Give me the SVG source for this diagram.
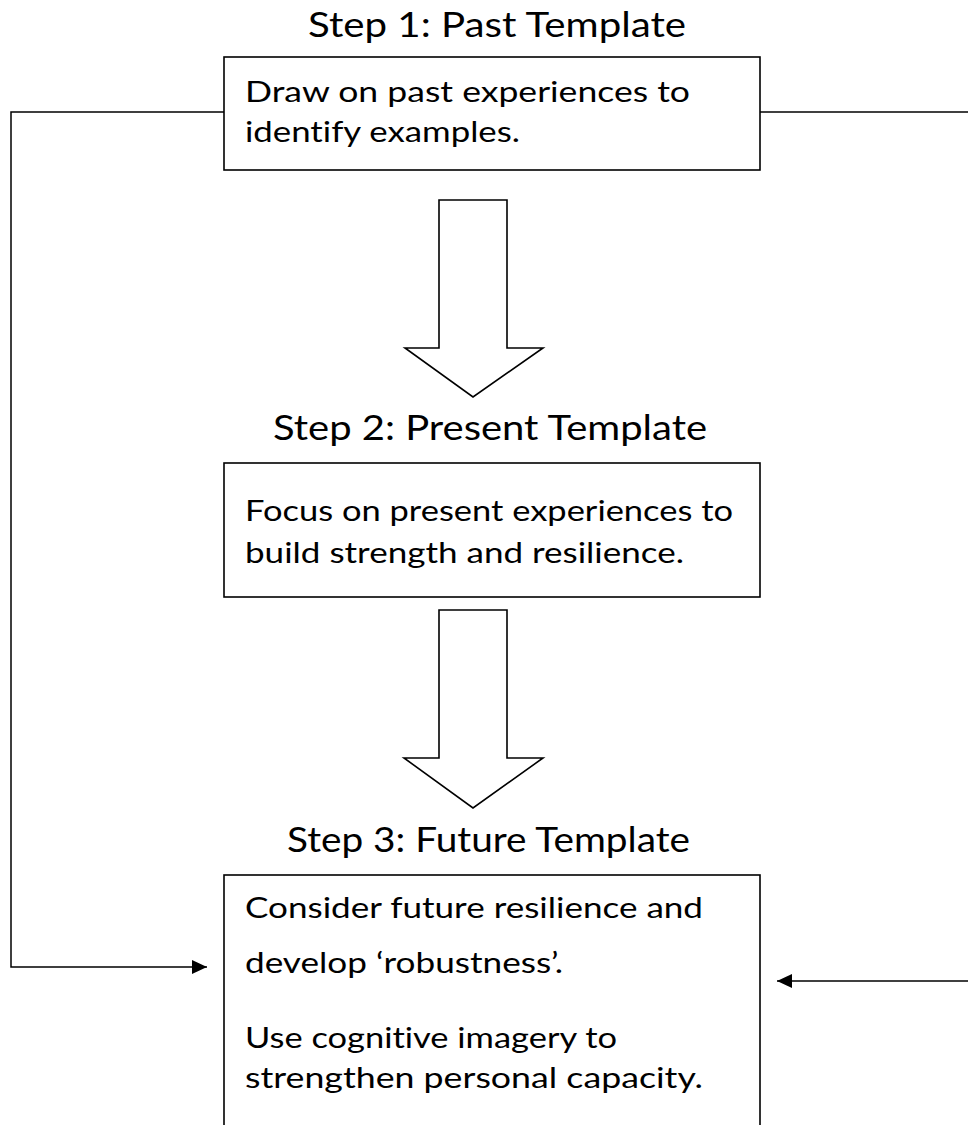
<svg xmlns="http://www.w3.org/2000/svg" width="968" height="1125" viewBox="0 0 968 1125">
  <style>
    .box { fill: #ffffff; stroke: #000000; stroke-width: 1.6; }
    .blk { fill: #ffffff; stroke: #000000; stroke-width: 1.6; stroke-linejoin: miter; }
    .conn { fill: none; stroke: #000000; stroke-width: 1.5; }
    .title { font-family: Lato, "Open Sans", "Liberation Sans", sans-serif; font-size: 35px; fill: #000000; font-variant-ligatures: none; }
    .body { font-family: Lato, "Open Sans", "Liberation Sans", sans-serif; font-size: 28px; fill: #000000; font-variant-ligatures: none; }
  </style>
  <defs>
    <marker id="ah" viewBox="0 0 15 14" refX="15" refY="7" markerWidth="15" markerHeight="14" markerUnits="userSpaceOnUse" orient="auto">
      <path d="M0,0 L15,7 L0,14 z" fill="#000000"/>
    </marker>
  </defs>
  <rect width="968" height="1125" fill="#ffffff"/>

  <g id="connectors">
    <polyline class="conn" points="224,112 11,112 11,967 207,967" marker-end="url(#ah)"/>
    <line class="conn" x1="760" y1="112" x2="968" y2="112"/>
    <line class="conn" x1="968" y1="981" x2="777" y2="981" marker-end="url(#ah)"/>
    <polygon class="blk" points="439,200 507,200 507,348 543,348 473,397 405,348 439,348"/>
    <polygon class="blk" points="439,610 507,610 507,758 543,758 473,808 404,758 439,758"/>
  </g>

  <g id="step1">
    <text class="title" x="308" y="37" textLength="378" lengthAdjust="spacingAndGlyphs">Step 1: Past Template</text>
    <rect class="box" x="224" y="57" width="536" height="113"/>
    <text class="body" x="245" y="102" textLength="445" lengthAdjust="spacingAndGlyphs">Draw on past experiences to</text>
    <text class="body" x="245" y="142" textLength="275" lengthAdjust="spacingAndGlyphs">identify examples.</text>
  </g>

  <g id="step2">
    <text class="title" x="273" y="440" textLength="434" lengthAdjust="spacingAndGlyphs">Step 2: Present Template</text>
    <rect class="box" x="224" y="463" width="536" height="134"/>
    <text class="body" x="245" y="521" textLength="488" lengthAdjust="spacingAndGlyphs">Focus on present experiences to</text>
    <text class="body" x="245" y="563" textLength="439" lengthAdjust="spacingAndGlyphs">build strength and resilience.</text>
  </g>

  <g id="step3">
    <text class="title" x="287" y="852" textLength="403" lengthAdjust="spacingAndGlyphs">Step 3: Future Template</text>
    <rect class="box" x="224" y="875" width="536" height="270"/>
    <text class="body" x="245" y="918" textLength="458" lengthAdjust="spacingAndGlyphs">Consider future resilience and</text>
    <text class="body" x="245" y="973" textLength="318" lengthAdjust="spacingAndGlyphs">develop ‘robustness’.</text>
    <text class="body" x="245" y="1048" textLength="372" lengthAdjust="spacingAndGlyphs">Use cognitive imagery to</text>
    <text class="body" x="245" y="1088" textLength="458" lengthAdjust="spacingAndGlyphs">strengthen personal capacity.</text>
  </g>
</svg>
